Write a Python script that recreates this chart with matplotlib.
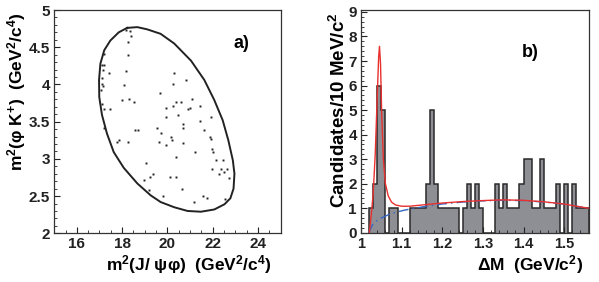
import matplotlib
matplotlib.use('Agg')
import matplotlib.pyplot as plt
import numpy as np

plt.rcParams['font.family'] = ['Liberation Sans', 'DejaVu Sans']
plt.rcParams['font.weight'] = 'bold'
plt.rcParams['axes.labelweight'] = 'bold'
plt.rcParams['mathtext.fontset'] = 'custom'
plt.rcParams['mathtext.rm'] = 'Liberation Sans:bold'
plt.rcParams['mathtext.it'] = 'Liberation Sans:bold'
plt.rcParams['mathtext.bf'] = 'Liberation Sans:bold'

# ---- panel a: Dalitz plot ----
bound_x = [18.22, 18.67, 19.11, 19.70, 20.30, 21.04, 21.63, 22.07, 22.44, 22.69, 22.89, 22.96,
           22.92, 22.78, 22.52, 22.07, 21.48, 20.89, 20.30, 19.70, 19.26, 18.67, 18.07, 17.63,
           17.33, 17.11, 16.99, 16.98, 17.04, 17.21, 17.48, 17.85, 18.22]
bound_y = [4.76, 4.77, 4.74, 4.68, 4.55, 4.32, 4.06, 3.79, 3.52, 3.25, 2.98, 2.80,
           2.60, 2.47, 2.39, 2.32, 2.29, 2.30, 2.35, 2.42, 2.51, 2.67, 2.88, 3.09,
           3.34, 3.59, 3.83, 4.06, 4.28, 4.46, 4.59, 4.70, 4.76]

ev_x = [18.19, 18.34, 18.40, 18.27, 18.24, 17.21, 17.11, 17.21, 17.15, 17.41, 18.19, 17.09,
        17.09, 17.15, 17.08, 18.10, 18.29, 18.00, 18.52, 17.11, 17.18, 17.45, 20.31, 20.26,
        20.81, 19.67, 20.37, 20.59, 20.26, 19.95, 21.07, 20.92, 21.01, 21.44, 20.47, 20.71,
        20.67, 19.92, 19.55, 19.70, 18.58, 18.71, 21.42, 21.91, 21.63, 21.90, 21.94, 17.85,
        17.78, 18.27, 19.63, 20.15, 20.22, 19.95, 20.67, 21.23, 21.97, 22.03, 20.40, 22.15,
        19.04, 22.44, 21.96, 22.37, 22.29, 22.52, 22.64, 22.74, 19.38, 19.21, 18.96, 20.12,
        20.37, 20.64, 19.82, 19.17, 21.18, 21.55, 21.75, 22.56, 17.18]
ev_y = [4.73, 4.72, 4.65, 4.57, 4.40, 4.41, 4.26, 4.26, 4.20, 4.16, 4.18, 4.08,
        4.01, 3.98, 3.93, 3.99, 3.81, 3.79, 3.76, 3.74, 3.67, 3.67, 4.16, 4.00,
        4.06, 3.89, 3.76, 3.76, 3.71, 3.69, 3.80, 3.67, 3.68, 3.71, 3.59, 3.47,
        3.42, 3.56, 3.41, 3.35, 3.39, 3.39, 3.51, 3.56, 3.39, 3.30, 3.27, 3.25,
        3.22, 3.22, 3.23, 3.30, 3.25, 3.18, 3.21, 3.09, 3.13, 3.09, 3.03, 2.98,
        2.94, 2.98, 2.86, 2.87, 2.80, 2.83, 2.86, 2.74, 2.80, 2.76, 2.71, 2.76,
        2.75, 2.59, 2.50, 2.58, 2.42, 2.50, 2.48, 2.46, 3.41]

# ---- panel b: Delta M histogram (10 MeV bins from 1.02) ----
edges = np.round(np.arange(1.02, 1.5601, 0.01), 3)
counts = [1, 2, 6, 5, 0, 1, 1, 0, 0, 0, 1, 1, 1, 1, 2, 5, 2, 1, 1, 1, 1, 1, 0, 1, 2, 1, 2,
          1, 0, 0, 0, 2, 1, 2, 1, 1, 1, 2, 3, 3, 1, 1, 3, 1, 1, 1, 2, 0, 2, 0, 2, 1, 1, 1]

fit_x = [1.0205, 1.025, 1.030, 1.035, 1.040, 1.0435, 1.0455, 1.048, 1.051, 1.055, 1.060, 1.067,
         1.075, 1.085, 1.10, 1.12, 1.15, 1.20, 1.25, 1.30, 1.35, 1.40, 1.45, 1.50, 1.53, 1.56]
fit_y = [0.0, 0.7, 1.6, 3.2, 5.6, 7.2, 7.6, 6.9, 4.8, 3.0, 2.0, 1.5,
         1.25, 1.13, 1.08, 1.08, 1.13, 1.21, 1.27, 1.31, 1.34, 1.32, 1.26, 1.17, 1.08, 1.0]

bkg_x = [1.0195, 1.025, 1.030, 1.045, 1.067, 1.085, 1.107, 1.15, 1.20, 1.25, 1.30, 1.35,
         1.40, 1.45, 1.50, 1.53, 1.56]
bkg_y = [0.0, 0.22, 0.38, 0.56, 0.73, 0.83, 0.92, 1.05, 1.17, 1.25, 1.30, 1.32,
         1.31, 1.25, 1.17, 1.08, 1.0]

fig = plt.figure(figsize=(5.99, 2.82), dpi=100)
ax1 = fig.add_axes([0.0905, 0.1727, 0.378, 0.7918])
ax2 = fig.add_axes([0.6027, 0.1748, 0.3798, 0.7897])

ax1.plot(bound_x, bound_y, color='#222222', lw=1.4)
ax1.plot(ev_x, ev_y, 's', color='#222222', ms=1.4, mew=0)
ax1.set_xlim(15, 25)
ax1.set_ylim(2, 5)
ax1.set_xticks([16, 18, 20, 22, 24])
ax1.set_xticks(np.arange(15, 25.01, 0.5), minor=True)
ax1.set_yticks([2, 2.5, 3, 3.5, 4, 4.5, 5])
ax1.set_yticklabels(['2', '2.5', '3', '3.5', '4', '4.5', '5'])
ax1.set_yticks(np.arange(2, 5.01, 0.1), minor=True)
ax1.text(0.829, 0.852, 'a)', transform=ax1.transAxes, fontsize=13, ha='center', va='center')
ax1.set_xlabel('m$^{2}$(J/ ψφ)  (GeV$^{2}$/c$^{4}$)', fontsize=12.5, ha='right', va='center')
ax1.xaxis.set_label_coords(0.962, -0.142)
ax1.set_ylabel('m$^{2}$(φ K$^{+}$)  (GeV$^{2}$/c$^{4}$)', fontsize=12.5, ha='right', va='center')
ax1.yaxis.set_label_coords(-0.168, 0.987)

ax2.stairs(counts, edges, fill=True, color='#8e8f95')
ax2.stairs(counts, edges, color='#2a2a2a', lw=1.1, baseline=0)
ax2.plot(bkg_x, bkg_y, color='#3566c2', lw=1.0, ls=(0, (7, 3, 1, 3)))
ax2.plot(fit_x, fit_y, color='#e8302e', lw=1.0)
ax2.set_xlim(1.0, 1.56)
ax2.set_ylim(0, 9.08)
ax2.set_xticks([1.0, 1.1, 1.2, 1.3, 1.4, 1.5])
ax2.set_xticklabels(['1', '1.1', '1.2', '1.3', '1.4', '1.5'])
ax2.set_xticks(np.arange(1.0, 1.561, 0.02), minor=True)
ax2.set_yticks(range(10))
ax2.set_yticks(np.arange(0, 9.01, 0.2), minor=True)
ax2.text(0.743, 0.807, 'b)', transform=ax2.transAxes, fontsize=13, ha='center', va='center')
ax2.set_xlabel('ΔM  (GeV/c$^{2}$)', fontsize=12.5, ha='right', va='center')
ax2.xaxis.set_label_coords(0.976, -0.142)
ax2.set_ylabel('Candidates/10 MeV/c$^{2}$', fontsize=13.5, ha='right', va='center')
ax2.yaxis.set_label_coords(-0.098, 0.987)

for ax in (ax1, ax2):
    ax.tick_params(which='both', direction='in', top=False, right=False, labelsize=11,
                   colors='#222222', pad=3)
    ax.tick_params(which='major', length=4, width=0.8)
    ax.tick_params(which='minor', length=2, width=0.6)
    for lab in ax.get_xticklabels() + ax.get_yticklabels():
        lab.set_fontweight('bold')
    for s in ax.spines.values():
        s.set_color('#333333')
        s.set_linewidth(0.9)
ax2.tick_params(axis='x', labelsize=10.5)

fig.savefig('out.png', dpi=100)
